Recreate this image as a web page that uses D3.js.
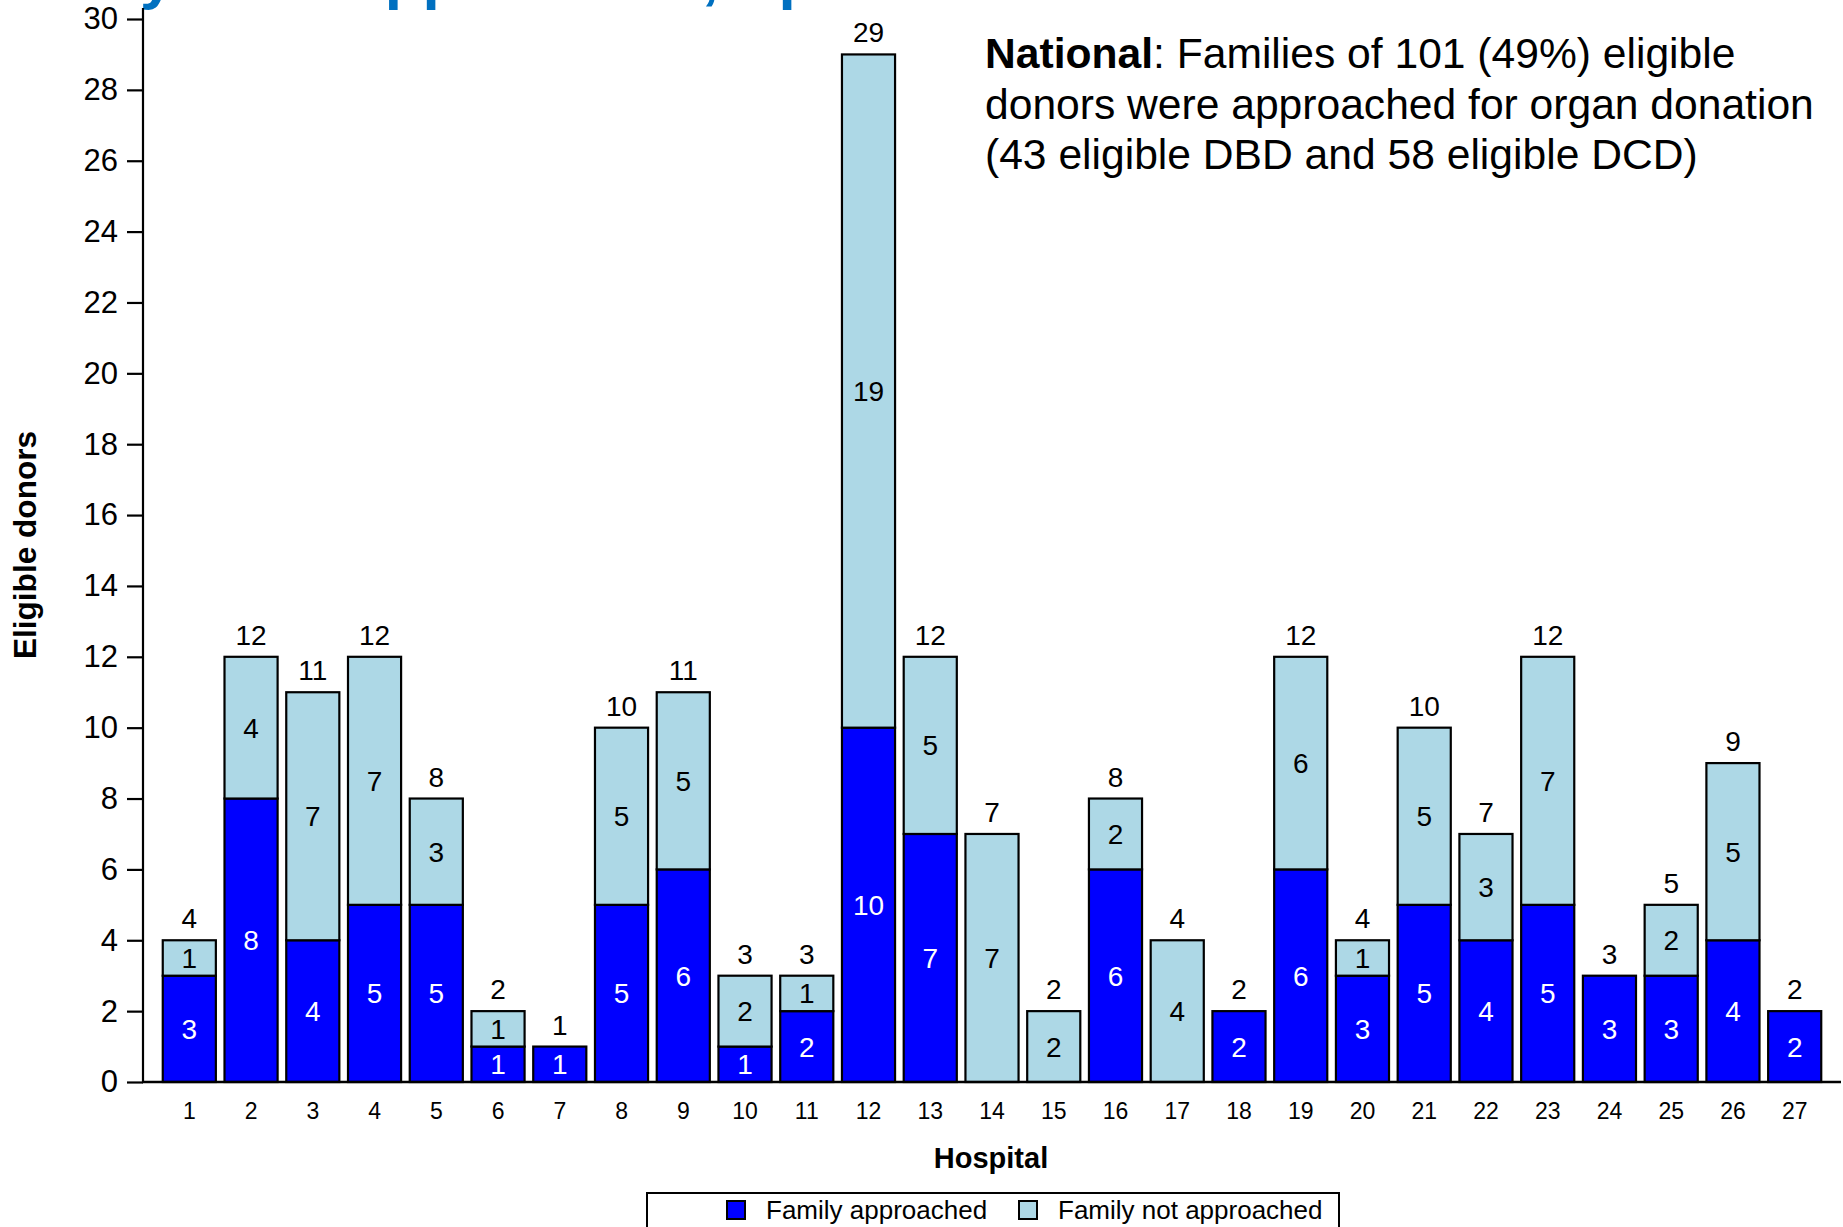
<!DOCTYPE html>
<html>
<head>
<meta charset="utf-8">
<script src="https://cdn.jsdelivr.net/npm/d3@7"></script>
<style>
  html, body { margin: 0; padding: 0; background: #fff; }
  svg { display: block; }
  text { font-family: "Liberation Sans", Arial, sans-serif; }
</style>
</head>
<body>
<svg id="chart" width="1843" height="1227"></svg>
<script>
// ---- data ----
const hospitals = ["1","2","3","4","5","6","7","8","9","10","11","12","13","14","15","16","17","18","19","20","21","22","23","24","25","26","27"];
const approached    = [3, 8, 4, 5, 5, 1, 1, 5, 6, 1, 2, 10, 7, 0, 0, 6, 0, 2, 6, 3, 5, 4, 5, 3, 3, 4, 2];
const notApproached = [1, 4, 7, 7, 3, 1, 0, 5, 5, 2, 1, 19, 5, 7, 2, 2, 4, 0, 6, 1, 5, 3, 7, 0, 2, 5, 0];
const yTicks = [0, 2, 4, 6, 8, 10, 12, 14, 16, 18, 20, 22, 24, 26, 28, 30];
const seriesNames = ["Family approached", "Family not approached"];
const seriesColors = ["#0000FF", "#ADD8E6"];
const titleText = "Eligible donors whose family were approached, April 2019 \u2013 March 2020";
const noteBold = "National";
const noteLines = [": Families of 101 (49%) eligible", "donors were approached for organ donation", "(43 eligible DBD and 58 eligible DCD)"];

// ---- layout ----
const svg = d3.select("#chart");
const axisX = 143, axisRight = 1841, y0 = 1082, yTop = 19;

const x = d3.scaleBand().domain(hospitals).range([axisX, axisRight]).paddingInner(0.14).paddingOuter(0.32);
const y = d3.scaleLinear().domain([0, 30]).range([y0, yTop]);

const rows = hospitals.map((h, i) => ({h, a: approached[i], n: notApproached[i]}));
const stack = d3.stack().keys(["a", "n"])(rows);

// title (cut off at the top of the page: only descenders show)
const title = svg.append("text")
  .attr("y", -3)
  .attr("fill", "#0070C0")
  .attr("font-weight", "bold")
  .attr("font-size", 62)
  .text(titleText);
const idx = titleText.indexOf("y were");
const pre = title.node().getSubStringLength(0, idx);
title.attr("x", 140 - pre);

// bars
stack.forEach((layer, li) => {
  svg.append("g").selectAll("rect")
    .data(layer.filter(d => d[1] - d[0] > 0))
    .join("rect")
    .attr("x", d => x(d.data.h))
    .attr("width", x.bandwidth())
    .attr("y", d => y(d[1]))
    .attr("height", d => y(d[0]) - y(d[1]))
    .attr("fill", seriesColors[li])
    .attr("stroke", "#000")
    .attr("stroke-width", 2.2);
  svg.append("g").selectAll("text")
    .data(layer.filter(d => d[1] - d[0] > 0))
    .join("text")
    .attr("x", d => x(d.data.h) + x.bandwidth() / 2)
    .attr("y", d => (y(d[0]) + y(d[1])) / 2 + 10)
    .attr("text-anchor", "middle")
    .attr("font-size", 28)
    .attr("fill", li === 0 ? "#fff" : "#000")
    .text(d => d[1] - d[0]);
});

// totals
svg.append("g").selectAll("text")
  .data(rows)
  .join("text")
  .attr("x", d => x(d.h) + x.bandwidth() / 2)
  .attr("y", d => y(d.a + d.n) - 12)
  .attr("text-anchor", "middle")
  .attr("font-size", 28)
  .attr("fill", "#000")
  .text(d => d.a + d.n);

// y axis
const yAxis = svg.append("g")
  .attr("transform", `translate(${axisX},0)`)
  .call(d3.axisLeft(y).tickValues(yTicks).tickSize(16).tickPadding(9));
yAxis.select(".domain").remove();
yAxis.selectAll(".tick line").attr("stroke", "#000").attr("stroke-width", 2.2);
yAxis.selectAll(".tick text").attr("font-size", 31).attr("fill", "#000")
  .attr("font-family", '"Liberation Sans", Arial, sans-serif');
svg.append("line").attr("x1", axisX).attr("x2", axisX).attr("y1", 8).attr("y2", y0 + 1)
  .attr("stroke", "#000").attr("stroke-width", 2.2);

// x axis
const xAxis = svg.append("g")
  .attr("transform", `translate(0,${y0})`)
  .call(d3.axisBottom(x).tickSize(0).tickPadding(21));
xAxis.select(".domain").remove();
xAxis.selectAll(".tick text").attr("font-size", 23).attr("fill", "#000")
  .attr("font-family", '"Liberation Sans", Arial, sans-serif');
svg.append("line").attr("x1", axisX - 1).attr("x2", axisRight).attr("y1", y0).attr("y2", y0)
  .attr("stroke", "#000").attr("stroke-width", 2.5);

// axis titles
svg.append("text")
  .attr("transform", `translate(36,545) rotate(-90)`)
  .attr("text-anchor", "middle")
  .attr("font-size", 31.6)
  .attr("font-weight", "bold")
  .text("Eligible donors");
svg.append("text")
  .attr("x", 991).attr("y", 1168)
  .attr("text-anchor", "middle")
  .attr("font-size", 29)
  .attr("font-weight", "bold")
  .text("Hospital");

// annotation
const note = svg.append("text").attr("x", 985).attr("font-size", 42.6).attr("fill", "#000");
const l1 = note.append("tspan").attr("x", 985).attr("y", 68);
l1.append("tspan").attr("font-weight", "bold").text(noteBold);
l1.append("tspan").text(noteLines[0]);
note.append("tspan").attr("x", 985).attr("y", 118.5).text(noteLines[1]);
note.append("tspan").attr("x", 985).attr("y", 169).text(noteLines[2]);

// legend
const lg = svg.append("g");
lg.append("rect").attr("x", 647).attr("y", 1193).attr("width", 692).attr("height", 60)
  .attr("fill", "#fff").attr("stroke", "#000").attr("stroke-width", 2);
const legX = [727, 1019];
seriesNames.forEach((name, i) => {
  lg.append("rect").attr("x", legX[i]).attr("y", 1201).attr("width", 18).attr("height", 18)
    .attr("fill", seriesColors[i]).attr("stroke", "#000").attr("stroke-width", 2);
  lg.append("text").attr("x", legX[i] + 39).attr("y", 1219).attr("font-size", 26).text(name);
});
</script>
</body>
</html>
